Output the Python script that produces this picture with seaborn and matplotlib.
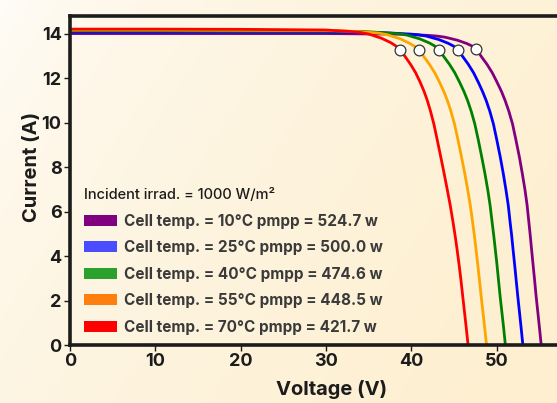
import numpy as np
import pandas as pd
import matplotlib
matplotlib.use("Agg")
import matplotlib.pyplot as plt
from matplotlib.patches import Patch
import seaborn as sns

# I-V curves, one pair of lists per cell temperature
v_10 = [0, 10, 20, 30, 38.91, 41.91, 42.91, 43.91, 45.41, 46.51, 47.11, 47.63,
        48.25, 48.86, 49.48, 50.06, 50.57, 51.00, 51.44, 51.86, 52.27, 52.67, 53.01,
        53.33, 53.57, 53.75, 53.93, 54.09, 54.27, 54.45, 54.63, 54.83, 55.03, 55.22]
i_10 = [14.01, 14.01, 14.01, 14.01, 13.98, 13.93, 13.90, 13.85, 13.71, 13.56, 13.45, 13.31,
        12.95, 12.63, 12.25, 11.81, 11.40, 10.99, 10.50, 9.94, 9.20, 8.44, 7.70,
        6.95, 6.28, 5.61, 4.95, 4.30, 3.60, 2.90, 2.17, 1.45, 0.72, 0.0]

v_25 = [0, 10, 20, 30, 36.73, 39.73, 40.73, 41.73, 43.23, 44.33, 44.93, 45.45,
        46.07, 46.67, 47.29, 47.86, 48.35, 48.78, 49.21, 49.62, 50.03, 50.43, 50.78,
        51.10, 51.36, 51.55, 51.75, 51.92, 52.11, 52.29, 52.48, 52.68, 52.88, 53.07]
i_25 = [14.08, 14.08, 14.08, 14.08, 14.05, 13.99, 13.96, 13.90, 13.74, 13.57, 13.45, 13.29,
        12.95, 12.63, 12.25, 11.81, 11.40, 10.99, 10.50, 9.94, 9.20, 8.44, 7.70,
        6.95, 6.28, 5.61, 4.95, 4.30, 3.60, 2.90, 2.17, 1.45, 0.72, 0.0]

v_40 = [0, 10, 20, 30, 34.5, 37.5, 38.5, 39.5, 41.0, 42.1, 42.7, 43.22,
        43.85, 44.46, 45.09, 45.67, 46.17, 46.60, 47.03, 47.44, 47.86, 48.26, 48.63,
        48.97, 49.23, 49.44, 49.65, 49.84, 50.04, 50.22, 50.41, 50.62, 50.83, 51.02]
i_40 = [14.13, 14.13, 14.12, 14.12, 14.10, 14.03, 14.00, 13.94, 13.77, 13.59, 13.46, 13.29,
        12.95, 12.63, 12.25, 11.81, 11.40, 10.99, 10.50, 9.94, 9.20, 8.44, 7.70,
        6.95, 6.28, 5.61, 4.95, 4.30, 3.60, 2.90, 2.17, 1.45, 0.72, 0.0]

v_55 = [0, 10, 20, 30, 32.16, 35.16, 36.16, 37.16, 38.66, 39.76, 40.36, 40.88,
        41.51, 42.11, 42.74, 43.32, 43.81, 44.23, 44.65, 45.06, 45.48, 45.89, 46.27,
        46.62, 46.91, 47.15, 47.38, 47.58, 47.79, 47.99, 48.19, 48.40, 48.61, 48.81]
i_55 = [14.17, 14.17, 14.16, 14.15, 14.13, 14.06, 14.03, 13.96, 13.78, 13.58, 13.44, 13.26,
        12.95, 12.63, 12.25, 11.81, 11.40, 10.99, 10.50, 9.94, 9.20, 8.44, 7.70,
        6.95, 6.28, 5.61, 4.95, 4.30, 3.60, 2.90, 2.17, 1.45, 0.72, 0.0]

v_70 = [0, 10, 20, 30, 33, 34, 35, 36.5, 37.6, 38.2, 38.72,
        39.32, 39.90, 40.50, 41.05, 41.50, 41.88, 42.26, 42.64, 43.05, 43.46, 43.85,
        44.23, 44.56, 44.85, 45.12, 45.36, 45.60, 45.82, 46.03, 46.24, 46.45, 46.65]
i_70 = [14.21, 14.21, 14.20, 14.17, 14.10, 14.06, 13.99, 13.80, 13.60, 13.45, 13.26,
        12.95, 12.63, 12.25, 11.81, 11.40, 10.99, 10.50, 9.94, 9.20, 8.44, 7.70,
        6.95, 6.28, 5.61, 4.95, 4.30, 3.60, 2.90, 2.17, 1.45, 0.72, 0.0]

# maximum power points (white dots)
mpp_v = [38.72, 40.88, 43.22, 45.45, 47.63]
mpp_i = [13.26, 13.26, 13.29, 13.29, 13.31]

temps = ["10", "25", "40", "55", "70"]
pmpp = ["524.7", "500.0", "474.6", "448.5", "421.7"]
line_colors = ["#800080", "#0000ff", "#008000", "#ffa500", "#ff0000"]
legend_colors = ["#800080", "#4b4bff", "#2ca02c", "#ff7f0e", "#ff0000"]

curves = pd.concat([
    pd.DataFrame({"V": v, "I": i, "T": t})
    for v, i, t in zip([v_10, v_25, v_40, v_55, v_70], [i_10, i_25, i_40, i_55, i_70], temps)
])
mpp = pd.DataFrame({"V": mpp_v, "I": mpp_i})

sns.set_theme(style="white")
plt.rcParams["font.family"] = ["Inter", "DejaVu Sans"]

fig = plt.figure(figsize=(5.57, 4.03), dpi=100)

# soft cream gradient in the background
bg = fig.add_axes([0, 0, 1, 1], zorder=-10)
gx, gy = np.meshgrid(np.linspace(0, 1, 300), np.linspace(0, 1, 220))
g = np.clip(0.75 * gx + 0.35 * gy, 0, 1) ** 0.6
c0 = np.array([255, 253, 249]) / 255
c1 = np.array([253, 239, 208]) / 255
img = c0 + (c1 - c0) * g[..., None]
bg.imshow(img, aspect="auto", origin="upper", extent=[0, 1, 0, 1])
bg.axis("off")

ax = fig.add_axes([70 / 557, 58 / 403, 512 / 557, 329 / 403])
ax.set_facecolor("none")

sns.lineplot(data=curves, x="V", y="I", hue="T", palette=line_colors, sort=False,
             estimator=None, linewidth=2.0, legend=False, ax=ax)
sns.scatterplot(data=mpp, x="V", y="I", s=60, color="white", edgecolor="#333333",
                linewidth=0.9, zorder=5, ax=ax)

ax.set_xlim(0, 60)
ax.set_ylim(0, 14.8)
ax.set_xticks(range(0, 51, 10))
ax.set_yticks(range(0, 15, 2))
for s in ["left", "bottom", "top"]:
    ax.spines[s].set_linewidth(2.6)
    ax.spines[s].set_color("#1c1c1c")
ax.spines["right"].set_visible(False)
ax.tick_params(direction="out", length=4, width=1, color="#1c1c1c", pad=2,
               labelsize=13, left=True, bottom=True)
for lab in ax.get_xticklabels() + ax.get_yticklabels():
    lab.set_fontweight("bold")
    lab.set_color("#1c1c1c")

ax.set_xlabel("Voltage (V)", fontsize=14.5, fontweight="bold", color="#1c1c1c")
ax.set_ylabel("Current (A)", fontsize=14.5, fontweight="bold", color="#1c1c1c")
ax.xaxis.set_label_coords(0.51, -0.105)
ax.yaxis.set_label_coords(-0.056, 0.54)

handles = [Patch(facecolor=c, edgecolor="none") for c in legend_colors]
labels = [f"Cell temp. = {t}°C pmpp = {p} w" for t, p in zip(temps, pmpp)]
leg = ax.legend(handles, labels, loc="lower left", bbox_to_anchor=(0.0, -0.01),
                frameon=False, title="Incident irrad. = 1000 W/m²",
                alignment="left", handlelength=2.2, handleheight=0.7,
                handletextpad=0.45, labelspacing=0.75,
                prop={"weight": "bold", "size": 11},
                title_fontproperties={"size": 10.5, "weight": "medium"})
for t in leg.get_texts():
    t.set_color("#3a3a3a")
leg.get_title().set_color("#1c1c1c")

fig.savefig("out.png", dpi=100)
